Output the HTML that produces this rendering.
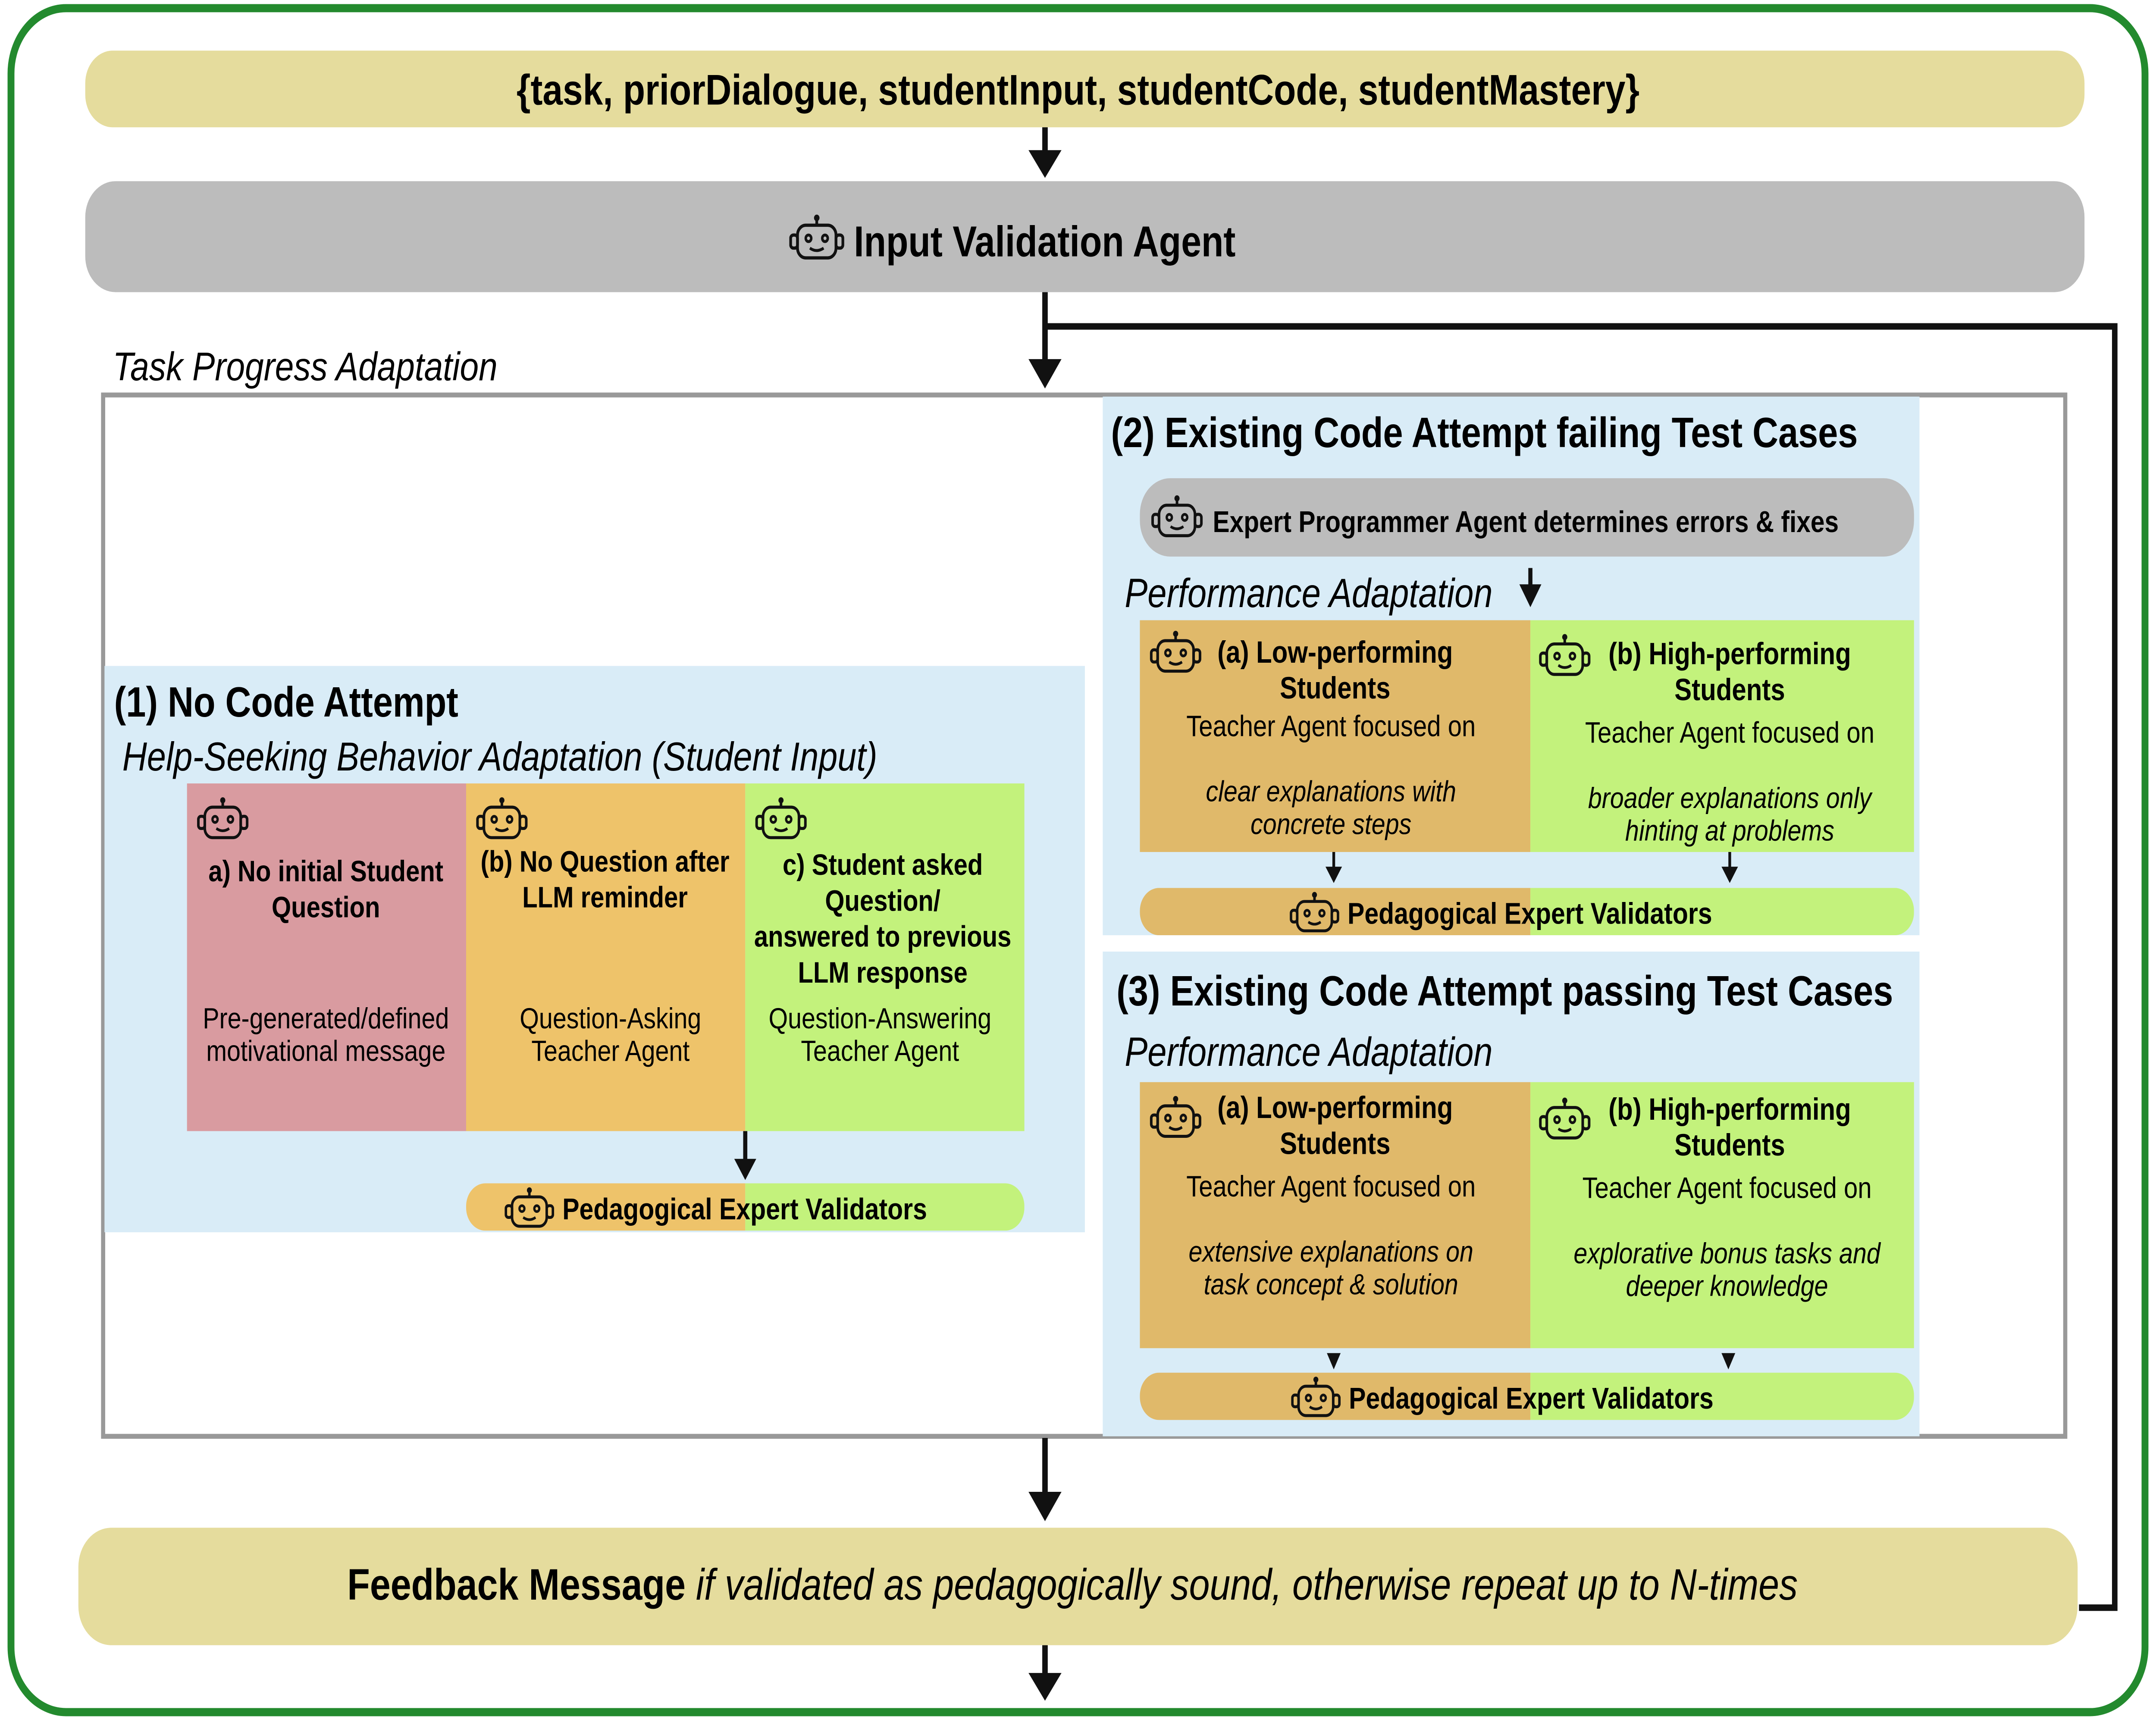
<!DOCTYPE html>
<html><head><meta charset="utf-8"><style>
html,body{margin:0;padding:0;background:#fff;width:100vw;height:100vh;overflow:hidden;}
svg{display:block;position:absolute;left:0;top:0;width:100vw;height:100vh;}
text{font-family:"Liberation Sans",sans-serif;}
</style></head><body>
<svg viewBox="0 0 1568 1063" preserveAspectRatio="none" xmlns="http://www.w3.org/2000/svg">
<defs>
<symbol id="bot" viewBox="0 0 40 30">
<line x1="20" y1="2" x2="20" y2="7" stroke="#111" stroke-width="2"/>
<circle cx="20" cy="2.5" r="2" fill="#111"/>
<rect x="6" y="7" width="28" height="20" rx="6" fill="none" stroke="#111" stroke-width="2"/>
<rect x="1" y="13" width="5" height="8" rx="2" fill="none" stroke="#111" stroke-width="2"/>
<rect x="34" y="13" width="5" height="8" rx="2" fill="none" stroke="#111" stroke-width="2"/>
<circle cx="14" cy="15" r="2" fill="none" stroke="#111" stroke-width="1.8"/>
<circle cx="26" cy="15" r="2" fill="none" stroke="#111" stroke-width="1.8"/>
<path d="M15 21 Q20 24 25 21" fill="none" stroke="#111" stroke-width="1.8"/>
</symbol>
</defs>
<rect width="1568" height="1063" fill="#fff"/>
<rect x="8" y="5" width="1552" height="1044" rx="40" fill="none" stroke="#238a2e" stroke-width="5"/>

<rect x="62" y="31" width="1454" height="47" rx="20" fill="#e5dc9d"/>
<text x="784" y="64" font-size="26.3" font-weight="bold" text-anchor="middle">{task, priorDialogue, studentInput, studentCode, studentMastery}</text>
<line x1="760" y1="78" x2="760" y2="100" stroke="#111" stroke-width="4"/>
<path d="M748 92 L772 92 L760 109 Z" fill="#111"/>

<rect x="62" y="111" width="1454" height="68" rx="22" fill="#bcbcbc"/>
<use href="#bot" x="574" y="131" width="40" height="30"/>
<text x="621" y="157" font-size="26.4" font-weight="bold">Input Validation Agent</text>

<line x1="760" y1="179" x2="760" y2="228" stroke="#111" stroke-width="4"/>
<path d="M748 220 L772 220 L760 238 Z" fill="#111"/>
<polyline points="760,200 1538,200 1538,985 1512,985" fill="none" stroke="#111" stroke-width="4"/>

<text x="82" y="233" font-size="24.6" font-style="italic">Task Progress Adaptation</text>
<rect x="75" y="242" width="1427" height="638" fill="none" stroke="#999" stroke-width="3"/>

<rect x="76" y="408" width="713" height="347" fill="#d9ecf7"/>
<text x="83" y="439" font-size="26" font-weight="bold">(1) No Code Attempt</text>
<text x="89" y="472" font-size="24.8" font-style="italic">Help-Seeking Behavior Adaptation (Student Input)</text>
<rect x="136" y="480" width="203" height="213" fill="#d99ba0"/>
<rect x="339" y="480" width="203" height="213" fill="#eec36a"/>
<rect x="542" y="480" width="203" height="213" fill="#c3f27c"/>
<use href="#bot" x="142" y="488" width="40" height="28"/>
<use href="#bot" x="345" y="488" width="40" height="28"/>
<use href="#bot" x="548" y="488" width="40" height="28"/>
<g font-size="18.2" font-weight="bold" text-anchor="middle">
<text x="237" y="540">a) No initial Student</text><text x="237" y="562">Question</text>
<text x="440" y="534">(b) No Question after</text><text x="440" y="556">LLM reminder</text>
<text x="642" y="536">c) Student asked</text><text x="642" y="558">Question/</text><text x="642" y="580">answered to previous</text><text x="642" y="602">LLM response</text>
</g>
<g font-size="18" text-anchor="middle">
<text x="237" y="630">Pre-generated/defined</text><text x="237" y="650">motivational message</text>
<text x="444" y="630">Question-Asking</text><text x="444" y="650">Teacher Agent</text>
<text x="640" y="630">Question-Answering</text><text x="640" y="650">Teacher Agent</text>
</g>
<line x1="542" y1="693" x2="542" y2="714" stroke="#111" stroke-width="3"/>
<path d="M534 710 L550 710 L542 723 Z" fill="#111"/>
<clipPath id="c1"><rect x="339" y="725" width="406" height="29" rx="14"/></clipPath>
<g clip-path="url(#c1)"><rect x="339" y="725" width="203" height="29" fill="#eec36a"/><rect x="542" y="725" width="203" height="29" fill="#c3f27c"/></g>
<use href="#bot" x="367" y="727" width="36" height="27"/>
<text x="409" y="747" font-size="18.5" font-weight="bold">Pedagogical Expert Validators</text>

<rect x="802" y="243" width="594" height="330" fill="#d9ecf7"/>
<text x="808" y="274" font-size="26" font-weight="bold">(2) Existing Code Attempt failing Test Cases</text>
<rect x="829" y="293" width="563" height="48" rx="22" fill="#bcbcbc"/>
<use href="#bot" x="837" y="303" width="38" height="28"/>
<text x="882" y="326" font-size="18.4" font-weight="bold">Expert Programmer Agent determines errors &amp; fixes</text>
<text x="818" y="372" font-size="24.9" font-style="italic">Performance Adaptation</text>
<line x1="1113" y1="348" x2="1113" y2="362" stroke="#111" stroke-width="3"/>
<path d="M1105 358 L1121 358 L1113 372 Z" fill="#111"/>
<rect x="829" y="380" width="284" height="142" fill="#e0b96a"/>
<rect x="1113" y="380" width="279" height="142" fill="#c3f27c"/>
<use href="#bot" x="835" y="386" width="40" height="28"/>
<use href="#bot" x="1118" y="388" width="40" height="28"/>
<g font-size="18.8" font-weight="bold" text-anchor="middle">
<text x="971" y="406">(a) Low-performing</text><text x="971" y="428">Students</text>
<text x="1258" y="407">(b) High-performing</text><text x="1258" y="429">Students</text>
</g>
<g font-size="18.2" text-anchor="middle">
<text x="968" y="451">Teacher Agent focused on</text>
<text x="1258" y="455">Teacher Agent focused on</text>
</g>
<g font-size="18" font-style="italic" text-anchor="middle">
<text x="968" y="491">clear explanations with</text><text x="968" y="511">concrete steps</text>
<text x="1258" y="495">broader explanations only</text><text x="1258" y="515">hinting at problems</text>
</g>
<line x1="970" y1="522" x2="970" y2="533" stroke="#111" stroke-width="2"/><path d="M964 531 L976 531 L970 541 Z" fill="#111"/>
<line x1="1258" y1="522" x2="1258" y2="533" stroke="#111" stroke-width="2"/><path d="M1252 531 L1264 531 L1258 541 Z" fill="#111"/>
<clipPath id="c2"><rect x="829" y="544" width="563" height="29" rx="14"/></clipPath>
<g clip-path="url(#c2)"><rect x="829" y="544" width="284" height="29" fill="#e0b96a"/><rect x="1113" y="544" width="279" height="29" fill="#c3f27c"/></g>
<use href="#bot" x="938" y="546" width="36" height="27"/>
<text x="980" y="566" font-size="18.5" font-weight="bold">Pedagogical Expert Validators</text>

<rect x="802" y="583" width="594" height="297" fill="#d9ecf7"/>
<text x="812" y="616" font-size="26" font-weight="bold">(3) Existing Code Attempt passing Test Cases</text>
<text x="818" y="653" font-size="24.9" font-style="italic">Performance Adaptation</text>
<rect x="829" y="663" width="284" height="163" fill="#e0b96a"/>
<rect x="1113" y="663" width="279" height="163" fill="#c3f27c"/>
<use href="#bot" x="835" y="671" width="40" height="28"/>
<use href="#bot" x="1118" y="672" width="40" height="28"/>
<g font-size="18.8" font-weight="bold" text-anchor="middle">
<text x="971" y="685">(a) Low-performing</text><text x="971" y="707">Students</text>
<text x="1258" y="686">(b) High-performing</text><text x="1258" y="708">Students</text>
</g>
<g font-size="18.2" text-anchor="middle">
<text x="968" y="733">Teacher Agent focused on</text>
<text x="1256" y="734">Teacher Agent focused on</text>
</g>
<g font-size="18" font-style="italic" text-anchor="middle">
<text x="968" y="773">extensive explanations on</text><text x="968" y="793">task concept &amp; solution</text>
<text x="1256" y="774">explorative bonus tasks and</text><text x="1256" y="794">deeper knowledge</text>
</g>
<path d="M965 829 L975 829 L970 839 Z" fill="#111"/>
<path d="M1252 829 L1262 829 L1257 839 Z" fill="#111"/>
<clipPath id="c3"><rect x="829" y="841" width="563" height="29" rx="14"/></clipPath>
<g clip-path="url(#c3)"><rect x="829" y="841" width="284" height="29" fill="#e0b96a"/><rect x="1113" y="841" width="279" height="29" fill="#c3f27c"/></g>
<use href="#bot" x="939" y="843" width="36" height="27"/>
<text x="981" y="863" font-size="18.5" font-weight="bold">Pedagogical Expert Validators</text>

<line x1="760" y1="881" x2="760" y2="922" stroke="#111" stroke-width="4"/>
<path d="M748 914 L772 914 L760 932 Z" fill="#111"/>

<rect x="57" y="936" width="1454" height="72" rx="24" fill="#e5dc9d"/>
<text x="780" y="980" font-size="27" text-anchor="middle"><tspan font-weight="bold">Feedback Message</tspan><tspan font-style="italic"> if validated as pedagogically sound, otherwise repeat up to N-times</tspan></text>

<line x1="760" y1="1008" x2="760" y2="1032" stroke="#111" stroke-width="4"/>
<path d="M748 1025 L772 1025 L760 1042 Z" fill="#111"/>
</svg>
</body></html>
